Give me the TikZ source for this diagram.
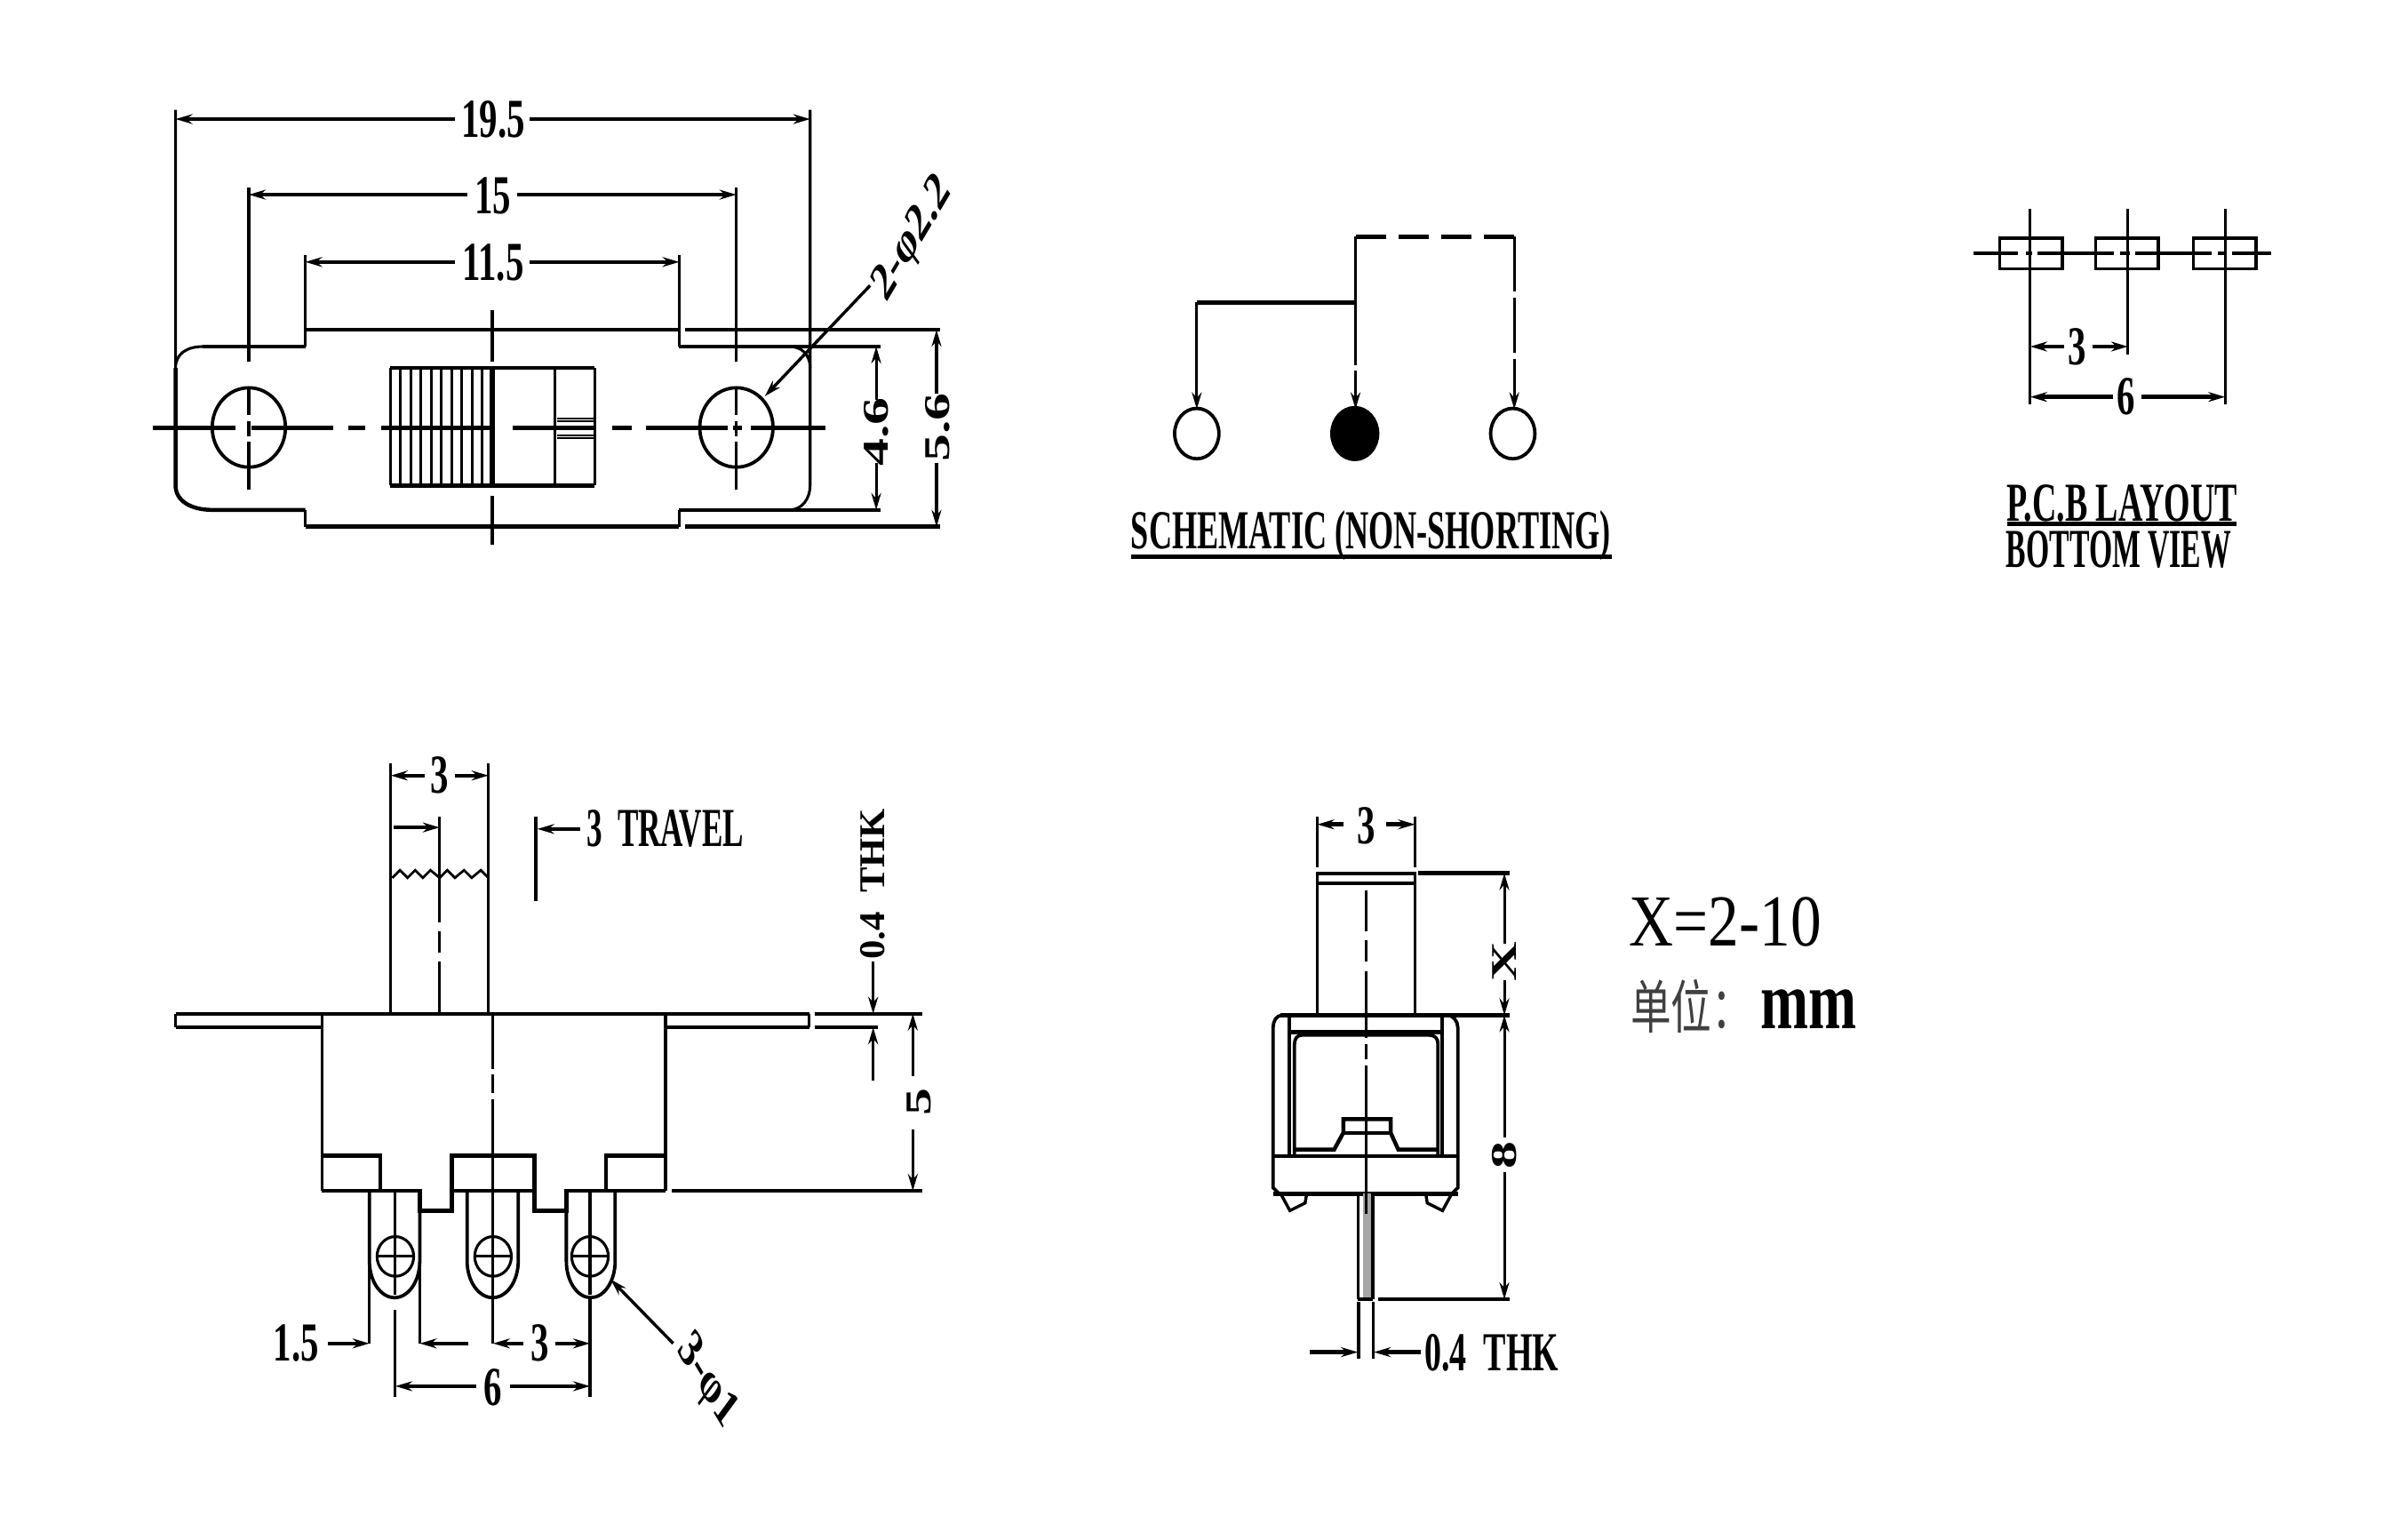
\documentclass[tikz,border=0pt]{standalone}
\usepackage{fontspec}
\setmainfont{Liberation Serif}
\newfontfamily\cjk{Noto Sans CJK SC}
\usetikzlibrary{arrows.meta}
\tikzset{
  vl/.style={line width=.9pt,black},
  hl/.style={line width=1.3pt,black},
  ar/.style={-{Stealth[length=5.5pt,width=3.2pt]}},
  lab/.style={font=\bfseries\fontsize{18}{18}\selectfont,inner sep=0pt,transform shape,xscale=.66},
  big/.style={font=\fontsize{24}{24}\selectfont,inner sep=0pt,transform shape},
}
\begin{document}
\begin{tikzpicture}[x=.5pt,y=-.5pt,line cap=butt,line join=miter]
\useasboundingbox (0,0) rectangle (1567,1008.2);
\fill[white] (0,0) rectangle (1567,1008.2);
% ---------- top view ----------
\draw[vl] (115,72) -- (115,241) .. controls (115,232) and (122,227) .. (133,227);
\draw[hl] (133,227) -- (200,227);
\draw[vl] (200,227) -- (200,216);
\draw[hl] (200,216) -- (445,216);
\draw[hl] (449,216) -- (616,216);
\draw[vl] (445,216) -- (445,227);
\draw[hl] (445,227) -- (577,227);
\draw[vl] (530.7,72) -- (530.7,318) .. controls (530.7,326) and (526,334) .. (517,334);
\draw[vl] (517,227) .. controls (525,227) and (530.7,232) .. (530.7,241);
\draw[hl] (445,334) -- (577,334);
\draw[vl] (445,334) -- (445,345);
\draw[hl] (200,345) -- (445,345);
\draw[hl] (449,345) -- (616,345);
\draw[vl] (200,345) -- (200,334);
\draw[hl] (200,334) -- (139,334) .. controls (125,334) and (115,328) .. (115,318) -- (115,241);
\draw[vl] (200,167) -- (200,216) (445,167) -- (445,216);
\draw[vl] (163,123) -- (163,237) (163,254) -- (163,272) (163,276) -- (163,286) (163,289) -- (163,321);
\draw[vl] (482.4,123) -- (482.4,237) (482.4,254) -- (482.4,272) (482.4,276) -- (482.4,286) (482.4,289) -- (482.4,321);
\draw[vl,line width=1.1pt] (163,280) ellipse[x radius=24,y radius=26];
\draw[vl,line width=1.1pt] (482.4,280) ellipse[x radius=24,y radius=26];
\foreach \a/\b in {100/154,165/218,228/239,250/322,336/390,401/414,423/477,480/486,492/541}
  \draw[hl] (\a,280.4) -- (\b,280.4);
\draw[vl,line width=1pt] (322.6,203) -- (322.6,237) (322.6,325) -- (322.6,357);
\draw[line width=1.6pt] (322.6,241) -- (322.6,318);
\draw[hl] (255.7,241) -- (389.5,241) (255.7,318) -- (389.5,318);
\draw[vl] (255.7,241) -- (255.7,318) (389.5,241) -- (389.5,318) (363.5,241) -- (363.5,318);
\foreach \k in {1,...,9}
  \draw[vl] ({255.7+\k*6.7},241) -- ({255.7+\k*6.7},318);
\draw[line width=.6pt] (365,274) -- (389.5,274) (365,276) -- (389.5,276) (365,285) -- (389.5,285) (365,287) -- (389.5,287);
\draw[hl,ar] (298,78) -- (115,78);
\draw[hl,ar] (347,78) -- (530.7,78);
\node[lab] (d195) at (323,78) {19.5};
\draw[hl,ar] (306,127.5) -- (163,127.5);
\draw[hl,ar] (339,127.5) -- (482.4,127.5);
\node[lab] (d15) at (323,128) {15};
\draw[hl,ar] (298,171.6) -- (200,171.6);
\draw[hl,ar] (347,171.6) -- (445,171.6);
\node[lab] (d115) at (323,172) {11.5};
\draw[vl,ar] (574,262) -- (574,227);
\draw[vl,ar] (574,303) -- (574,334);
\node[lab,rotate=90] (d46) at (574,283) {4.6};
\draw[vl,ar] (613.5,258) -- (613.5,216);
\draw[vl,ar] (613.5,303) -- (613.5,345);
\node[lab,rotate=90] (d56) at (614,280) {5.6};
\draw[vl,line width=1pt,ar] (570,187) -- (501,259.6);
\node[lab,rotate=48] (phi22) at (598,157) {2-φ2.2};
% ---------- schematic ----------
\draw[hl,line width=1.5pt] (784,198) -- (888,198);
\draw[vl,ar] (784,198) -- (784,268);
\draw[vl,ar,dash pattern=on 42pt off 2pt] (888,155) -- (888,268);
\draw[vl,ar,dash pattern=on 18pt off 2pt] (992,155) -- (992,268);
\draw[line width=1.4pt,dash pattern=on 10pt off 4pt] (888,155) -- (992,155);
\draw[line width=1.1pt,fill=white] (784,284) ellipse[x radius=14.5,y radius=16.5];
\draw[line width=1.1pt,fill=black] (887.5,284) ellipse[x radius=15,y radius=17];
\draw[line width=1.1pt,fill=white] (991,284) ellipse[x radius=14.5,y radius=16.5];
\node[lab,xscale=.886] (sch) at (898,351) {SCHEMATIC (NON-SHORTING)};
\draw[hl,line width=1.4pt] (741,364.5) -- (1056,364.5);
% ---------- pcb ----------
\foreach \x in {1310,1373,1437}
  \draw[line width=1pt] (\x,156) rectangle ++(41,20);
\foreach \a/\b in {1293/1322,1327/1331,1335/1385,1389/1395,1399/1449,1453/1458,1462/1488}
  \draw[hl] (\a,166) -- (\b,166);
\draw[vl] (1330,137) -- (1330,265) (1394,137) -- (1394,232) (1457.7,137) -- (1457.7,265);
\draw[hl,ar] (1352,227) -- (1330,227);
\draw[hl,ar] (1371,227) -- (1394,227);
\node[lab] (p3) at (1361,227) {3};
\draw[hl,ar] (1384,260) -- (1330,260);
\draw[hl,ar] (1403,260) -- (1457.7,260);
\node[lab] (p6) at (1393,260) {6};
\node[lab,xscale=.93] (pcb1) at (1390,330) {P.C.B LAYOUT};
\draw[hl,line width=1.4pt] (1315,343) -- (1465,343);
\node[lab,xscale=.826] (pcb2) at (1388,360) {BOTTOM VIEW};
% ---------- side view ----------
\draw[hl] (115,664) -- (530,664) (115,673) -- (211,673);
\draw[vl] (115,664) -- (115,673);
\draw[hl] (436,673) -- (530,673);
\draw[vl] (530,664) -- (530,673);
\draw[hl] (534,664) -- (604,664) (534,673) -- (575,673);
\draw[vl,line width=1.1pt] (211,664) -- (211,780) (436,664) -- (436,780);
\draw[vl] (256,500) -- (256,664) (320,500) -- (320,664);
\draw[vl] (288,535) -- (288,604) (288,610) -- (288,624) (288,630) -- (288,664);
\draw[vl] (322.6,664) -- (322.6,700) (322.6,704) -- (322.6,716) (322.6,720) -- (322.6,880);
\draw[line width=.8pt] (257,575) -- (262,570) -- (267,575) -- (272,570) -- (277,575) -- (282,570) -- (288,575) -- (293,570) -- (298,575) -- (304,570) -- (309,575) -- (315,570) -- (320,575);
\draw[hl,ar] (278,508) -- (256,508);
\draw[hl,ar] (298,508) -- (320,508);
\node[lab] (s3) at (288,508) {3};
\draw[hl,ar] (258,542) -- (288,542);
\draw[vl] (351,535) -- (351,590);
\draw[hl,ar] (380,543) -- (352,543);
\node[lab,anchor=west,xscale=.86] (trav) at (384,543) {3~~TRAVEL};
\draw[hl] (211,757) -- (249,757) -- (249,780);
\draw[hl] (296,780) -- (296,757) -- (350,757) -- (350,780);
\draw[hl] (436,757) -- (397,757) -- (397,780);
\draw[hl] (211,780) -- (275,780) -- (275,793) -- (296,793) -- (296,780) -- (350,780) -- (350,793) -- (371,793) -- (371,780) -- (436,780);
\draw[hl] (440,780) -- (604,780);
\draw[vl,line width=1.1pt] (242,780) -- (242,826) arc[start angle=180,end angle=0,x radius=16.5,y radius=24] -- (275,793);
\draw[vl,line width=1.1pt] (306,780) -- (306,826) arc[start angle=180,end angle=0,x radius=16.75,y radius=24] -- (339.5,780);
\draw[vl,line width=1.1pt] (371,793) -- (371,826) arc[start angle=180,end angle=0,x radius=16,y radius=24] -- (403,780);
\foreach \x in {259,323,386.5}{
  \draw[vl] (\x,823) ellipse[x radius=12,y radius=13];
  \draw[vl] (\x-12,823) -- (\x+12,823);
}
\draw[vl] (259,780) -- (259,848) (386.5,780) -- (386.5,848);
\draw[vl] (242,826) -- (242,880) (275,826) -- (275,880);
\draw[vl] (259,858) -- (259,915) (386.5,850) -- (386.5,915);
\draw[hl,ar] (215,880) -- (242,880);
\node[lab] (d15b) at (194,880) {1.5};
\draw[hl,ar] (307,880) -- (275,880);
\draw[hl,ar] (343,880) -- (323,880);
\draw[hl,ar] (364,880) -- (386.5,880);
\node[lab] (s3b) at (354,880) {3};
\draw[hl,ar] (312,908) -- (259,908);
\draw[hl,ar] (334,908) -- (386.5,908);
\node[lab] (s6) at (323,909) {6};
\draw[vl,line width=1pt,ar] (441,880) -- (400,838);
\node[lab,rotate=-48] (phi1) at (463,905) {3-φ1};
\draw[vl,ar] (572,630) -- (572,664);
\draw[vl,ar] (572,708) -- (572,673);
\node[lab,rotate=90,xscale=.69] (thk) at (572,579) {0.4~~THK};
\draw[vl,ar] (598,705) -- (598,664);
\draw[vl,ar] (598,740) -- (598,780);
\node[lab,rotate=90] (s5) at (602,722) {5};
% ---------- front view ----------
\draw[vl,line width=1.1pt] (863,665) -- (863,572) -- (927,572) -- (927,665);
\draw[hl] (863,578.5) -- (927,578.5);
\draw[vl] (863,535) -- (863,568) (927,535) -- (927,568);
\draw[hl,ar] (880,540) -- (863,540);
\draw[hl,ar] (908,540) -- (927,540);
\node[lab] (f3) at (895,541) {3};
\draw[hl] (929,572) -- (989,572);
\draw[vl] (895,583) -- (895,610) (895,616) -- (895,630) (895,636) -- (895,680);
\draw[vl] (895,684) -- (895,694) (895,698) -- (895,750);
\draw[hl] (839,665) -- (989,665);
\draw[vl,line width=1.1pt] (840,665) .. controls (836,665) and (834,669) .. (834,673) -- (834,778) -- (838,782);
\draw[vl,line width=1.1pt] (948,665) .. controls (952,665) and (955,669) .. (955,673) -- (955,778) -- (951,782);
\draw[hl] (844,676) -- (944,676);
\draw[vl,line width=1.1pt] (844.5,665) -- (844.5,757) (944.5,665) -- (944.5,757);
\draw[vl,line width=1.1pt] (848,757) -- (848,684) .. controls (848,680) and (850,678) .. (853,678) -- (936,678) .. controls (940,678) and (942,680) .. (942,684) -- (942,757);
\draw[hl] (848,753) -- (874,753) -- (880,742) -- (880,733) -- (911,733) -- (911,742) -- (916,753) -- (942,753);
\draw[hl] (880,742) -- (911,742);
\draw[hl] (834,757.4) -- (955,757.4);
\draw[hl] (834,782) -- (955,782);
\draw[vl,line width=1pt] (839,782) -- (845,793) -- (855,788) -- (856,782);
\draw[vl,line width=1pt] (934,782) -- (935,788) -- (945,793) -- (951,782);
\draw[fill=black!35,draw=none] (893,782) rectangle (899,851);
\draw[vl,line width=1pt] (889.7,782) -- (889.7,851) (899.4,782) -- (899.4,851);
\draw[hl] (889.7,851) -- (899.4,851);
\draw[vl] (895,742) -- (895,785);
\draw[vl] (895,785) -- (895,795);
\draw[hl] (903,851) -- (989,851);
\draw[vl,ar] (985.5,618) -- (985.5,572);
\draw[vl,ar] (985.5,642) -- (985.5,665);
\node[lab,rotate=90] (fx) at (985.5,630) {X};
\draw[vl,ar] (985.5,745) -- (985.5,665);
\draw[vl,ar] (985.5,768) -- (985.5,851);
\node[lab,rotate=90] (f8) at (985.5,757) {8};
\draw[vl] (890,853) -- (890,890) (899.4,853) -- (899.4,890);
\draw[hl,ar] (858,885.7) -- (889.5,885.7);
\draw[hl,ar] (931,885.7) -- (900,885.7);
\node[lab,anchor=west,xscale=.93] (f04) at (933,886) {0.4~~THK};
\node[big,anchor=west,xscale=.84] (xeq) at (1067,604) {X=2-10};
\node[anchor=west,inner sep=0pt,text=black!75,transform shape,xscale=.7] (unit) at (1068,659) {\cjk\fontsize{19}{19}\selectfont 单位：};
\node[big,font=\bfseries\fontsize{27}{27}\selectfont,anchor=base west,xscale=.7] (mm) at (1153,674) {mm};
\end{tikzpicture}
\end{document}
